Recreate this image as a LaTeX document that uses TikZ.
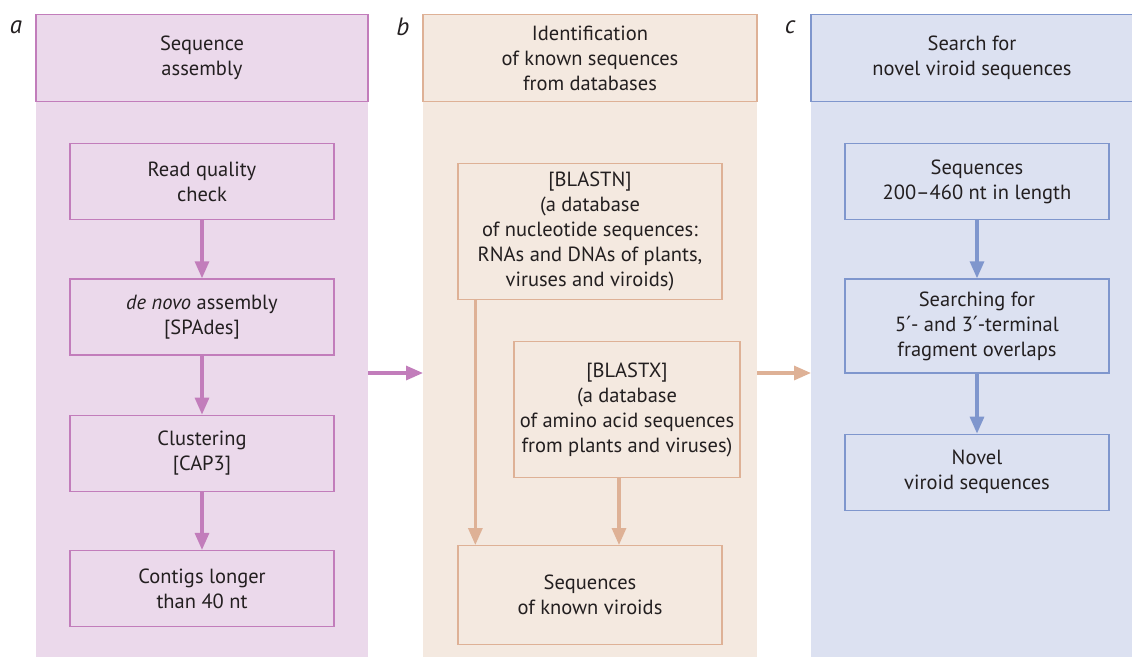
\documentclass[tikz,border=0pt]{standalone}
\usepackage{fontspec}
\setmainfont{PT Sans}
\newfontfamily\primefont{DejaVu Sans}
\newcommand{\prm}{{\primefont\fontsize{21}{25}\selectfont ′}}
\usetikzlibrary{positioning, arrows.meta}
\definecolor{cpbg}{HTML}{EBD9EB}
\definecolor{cpln}{HTML}{C27DBB}
\definecolor{cbbg}{HTML}{F4E9E0}
\definecolor{cbln}{HTML}{DEB196}
\definecolor{ccbg}{HTML}{DCE1F1}
\definecolor{ccln}{HTML}{7F96CD}
\definecolor{ctxt}{HTML}{231F20}
\tikzset{
  pnl/.style={fill=#1, draw=none, outer sep=0pt, anchor=north west,
              minimum height=643pt},
  hdr/.style={draw=#1, line width=1.3pt, align=center, anchor=north,
              minimum height=87pt, inner sep=0pt},
  box/.style={draw=#1, line width=1.3pt, align=center, minimum width=264pt,
              minimum height=76pt, inner sep=0pt},
  lbl/.style={font=\fontsize{25}{25}\selectfont\itshape, text=ctxt},
  fl/.style={draw=#1, -{Triangle[length=17pt, width=14pt, fill=#1]}, line width=3.2pt},
}

\begin{document}
\begin{tikzpicture}[x=1pt, y=-1pt, node distance=58pt,
    font=\fontsize{20.5}{25}\selectfont, text=ctxt]
  \useasboundingbox (0,0) rectangle (1132,657);
  % ---------- panels ----------
  \node[pnl=cpbg, minimum width=332pt] (pa) at (36,14) {};
  \node[pnl=cbbg, minimum width=334pt] (pb) at (423,14) {};
  \node[pnl=ccbg, minimum width=322pt] (pc) at (811,14) {};
  \node[hdr=cpln, minimum width=332pt] (ha) at (pa.north) {Sequence\\assembly};
  \node[hdr=cbln, minimum width=334pt] (hb) at (pb.north) {Identification\\of known sequences\\from databases};
  \node[hdr=ccln, minimum width=322pt] (hc) at (pc.north) {Search for\\novel viroid sequences};
  \node[lbl] (la) at (16,27) {a};
  \node[lbl] (lb) at (403,27) {b};
  \node[lbl] (lc) at (790,27) {c};
  % ---------- a ----------
  \node[box=cpln, anchor=north] (qc) at (202,143) {Read quality\\check};
  \node[box=cpln, below=of qc] (asm) {\textit{de novo} assembly\\{[SPAdes]}};
  \node[box=cpln, below=59pt of asm] (cl) {Clustering\\{[CAP3]}};
  \node[box=cpln, below=of cl] (ctg) {Contigs longer\\than 40 nt};
  \draw[fl=cpln] (qc) -- (asm); \draw[fl=cpln] (asm) -- (cl); \draw[fl=cpln] (cl) -- (ctg);
  % ---------- b ----------
  \node[box=cbln, anchor=north, minimum height=136pt] (bn) at (590,163)
    {[BLASTN]\\(a database\\of nucleotide sequences:\\RNAs and DNAs of plants,\\viruses and viroids)};
  \node[box=cbln, anchor=north, minimum width=226pt, minimum height=136pt] (bx) at (627,341)
    {[BLASTX]\\(a database\\of amino acid sequences\\from plants and viruses)};
  \node[box=cbln, anchor=north, minimum height=99pt] (kv) at (590,545)
    {Sequences\\of known viroids};
  \draw[fl=cbln] ([xshift=18pt]kv.north west |- bn.south) -- ([xshift=18pt]kv.north west);
  \draw[fl=cbln] ([xshift=-8pt]bx.south) -- ([xshift=-8pt]bx.south |- kv.north);
  % ---------- c ----------
  \node[box=ccln, anchor=north] (len) at (977,143) {Sequences\\200–460 nt in length};
  \node[box=ccln, below=of len, minimum height=94pt] (ovl) {Searching for\\5\prm- and 3\prm-terminal\\fragment overlaps};
  \node[box=ccln, below=60pt of ovl] (nv) {Novel\\viroid sequences};
  \draw[fl=ccln] (len) -- (ovl); \draw[fl=ccln] (ovl) -- (nv);
  % ---------- between panels ----------
  \coordinate (ab) at (368,373);
  \coordinate (bc) at (757,373);
  \draw[fl=cpln] (ab) -- (pb.west |- ab);
  \draw[fl=cbln] (bc) -- (pc.west |- bc);
\end{tikzpicture}
\end{document}
